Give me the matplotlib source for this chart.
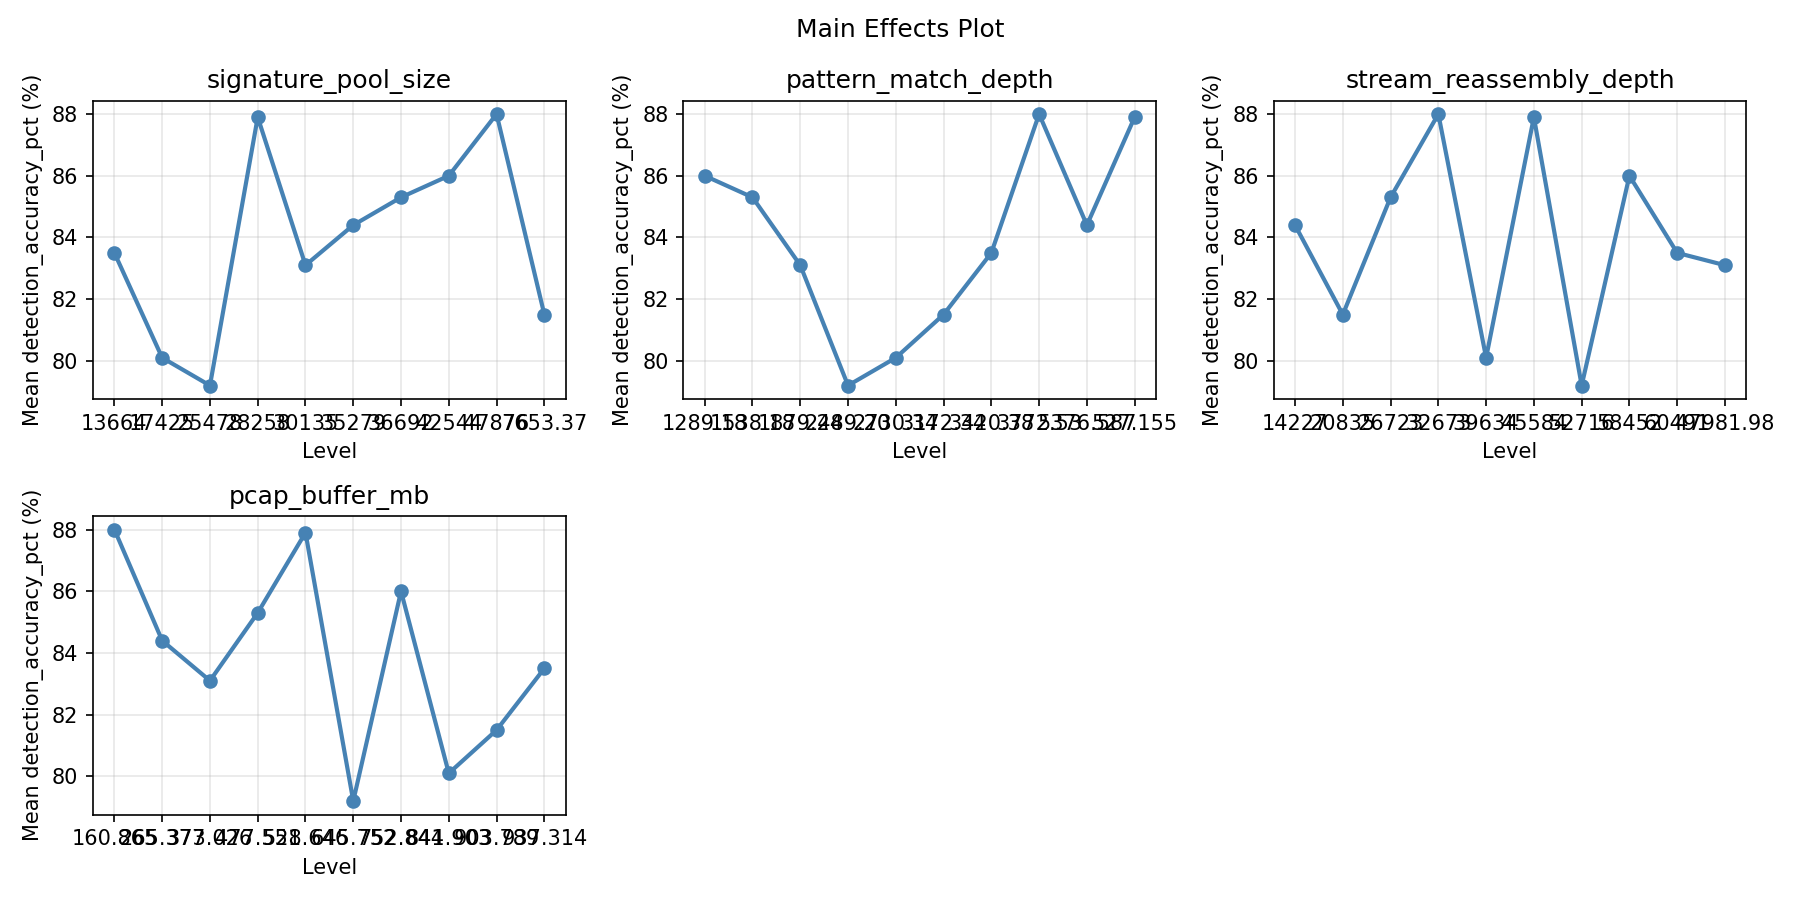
import matplotlib
matplotlib.use("Agg")
import matplotlib.pyplot as plt

# factor levels
sig_levels = ["13664", "17425", "25478", "28258", "30135", "35279", "36692",
              "42544", "47876", "7653.37"]
sig_means = [83.5, 80.1, 79.2, 87.9, 83.1, 84.4, 85.3, 86.0, 88.0, 81.5]

pat_levels = ["1289.18", "1538.18", "1879.24", "2489.20", "2730.34", "3172.34",
              "3420.38", "3772.53", "5376.587", "527.155"]
pat_means = [86.0, 85.3, 83.1, 79.2, 80.1, 81.5, 83.5, 88.0, 84.4, 87.9]

str_levels = ["14227", "20835", "26723", "32673", "39634", "45584", "52716",
              "58452", "60491", "47981.98"]
str_means = [84.4, 81.5, 85.3, 88.0, 80.1, 87.9, 79.2, 86.0, 83.5, 83.1]

pcap_levels = ["160.865", "265.377", "373.026", "477.551", "528.646", "645.752",
               "752.844", "841.903", "903.789", "937.314"]
pcap_means = [88.0, 84.4, 83.1, 85.3, 87.9, 79.2, 86.0, 80.1, 81.5, 83.5]

factors = [
    ("signature_pool_size", sig_levels, sig_means),
    ("pattern_match_depth", pat_levels, pat_means),
    ("stream_reassembly_depth", str_levels, str_means),
    ("pcap_buffer_mb", pcap_levels, pcap_means),
]

fig, axes = plt.subplots(2, 3, figsize=(12, 6), dpi=150)
axes = axes.flatten()

for ax, (name, levels, means) in zip(axes, factors):
    ax.plot(levels, means, marker="o", color="steelblue", linewidth=2)
    ax.set_title(name)
    ax.set_xlabel("Level")
    ax.set_ylabel("Mean detection_accuracy_pct (%)")
    ax.grid(True, alpha=0.3)

# hide unused panels
for ax in axes[len(factors):]:
    ax.axis("off")

fig.suptitle("Main Effects Plot")
plt.tight_layout()
plt.savefig("out.png")
